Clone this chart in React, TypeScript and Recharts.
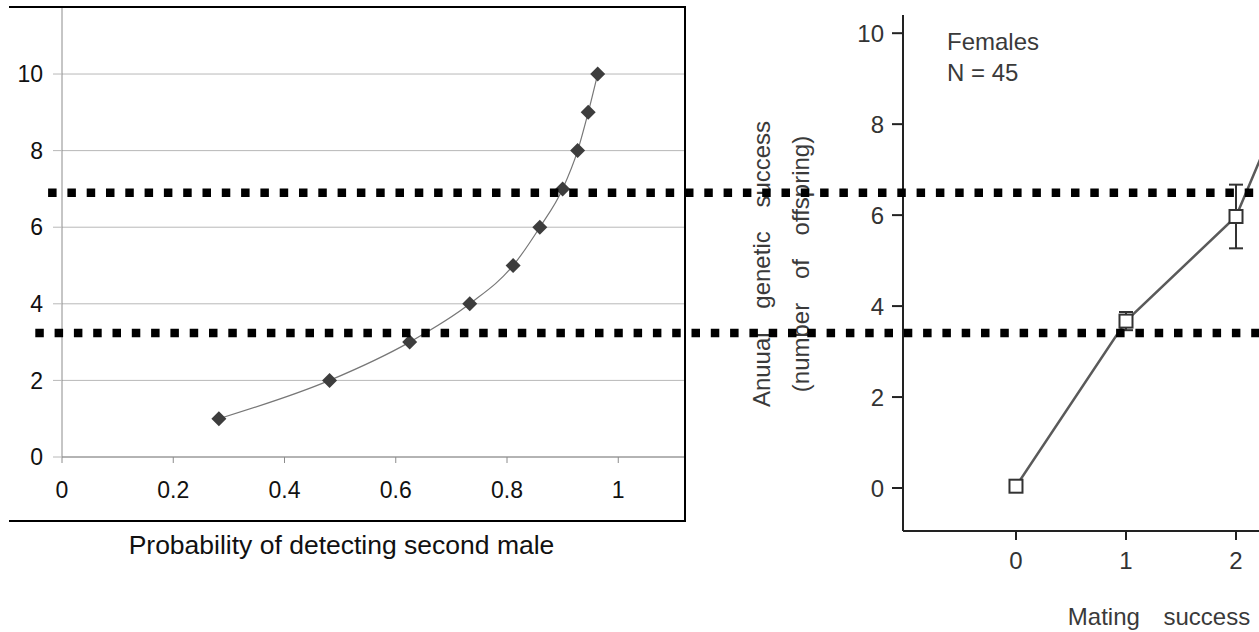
import React from 'react'
import {
  LineChart,
  Line,
  XAxis,
  YAxis,
  CartesianGrid,
  ReferenceLine,
  ErrorBar,
  Label,
} from 'recharts'

// left panel: probability of detecting a second male (x) for 1..10 (y)
const lociCount = [1, 2, 3, 4, 5, 6, 7, 8, 9, 10]
const probDetect = [0.282, 0.481, 0.625, 0.733, 0.811, 0.859, 0.9, 0.927, 0.946, 0.963]
const leftXTicks = [0, 0.2, 0.4, 0.6, 0.8, 1]
const leftYTicks = [0, 2, 4, 6, 8, 10]

// right panel: females, annual genetic success vs mating success
const matingSuccess = [0, 1, 2, 3]
const offspring = [0.04, 3.67, 5.97, 11.7]
const offspringErr = [0, 0.2, 0.7, 0.9]
const rightXTicks = [0, 1, 2]
const rightYTicks = [0, 2, 4, 6, 8, 10]

// dotted lines across both panels, in left panel units
const thresholdLevels = [6.9, 3.24]
const thresholdStarts = [-0.025, -0.048]
const thresholdEnd = 2.2

const leftData = lociCount.map((n, i) => ({ p: probDetect[i], n }))
const rightData = matingSuccess.map((m, i) => ({ m, off: offspring[i], err: offspringErr[i] }))

const Diamond = (props: any) => {
  const { cx, cy, index } = props
  if (cx == null || cy == null) return <g key={index} />
  const r = 7.5
  return (
    <path
      key={index}
      d={`M${cx},${cy - r}L${cx + r},${cy}L${cx},${cy + r}L${cx - r},${cy}Z`}
      fill="#3d3d3d"
    />
  )
}

const HollowSquare = (props: any) => {
  const { cx, cy, index } = props
  if (cx == null || cy == null) return <g key={index} />
  const s = 13
  return (
    <rect
      key={index}
      x={cx - s / 2}
      y={cy - s / 2}
      width={s}
      height={s}
      fill="#fff"
      stroke="#333"
      strokeWidth={2}
    />
  )
}

const RightYLabel = (props: any) => {
  const { viewBox } = props
  const cy = viewBox.y + viewBox.height / 2 - 9
  const x1 = viewBox.x - 82
  const x2 = viewBox.x - 43
  const style = { fontSize: 24, fill: '#3a3a3a', wordSpacing: 17 }
  return (
    <g>
      <text x={x1} y={cy} transform={`rotate(-90, ${x1}, ${cy})`} textAnchor="middle" dominantBaseline="central" style={style}>
        Anuual genetic success
      </text>
      <text x={x2} y={cy} transform={`rotate(-90, ${x2}, ${cy})`} textAnchor="middle" dominantBaseline="central" style={style}>
        (number of offspring)
      </text>
    </g>
  )
}

export default function App() {
  return (
    <div
      style={{
        position: 'absolute',
        left: 0,
        top: 0,
        width: 1259,
        height: 632,
        overflow: 'hidden',
        background: '#fff',
        fontFamily: '"Liberation Sans", Arial, sans-serif',
      }}
    >
      {/* left panel */}
      <div style={{ position: 'absolute', left: 0, top: 0 }}>
        <LineChart width={700} height={580} data={leftData} margin={{ top: 7, right: 15, bottom: 0, left: 12 }}>
          <CartesianGrid vertical={false} stroke="#b8b8b8" />
          <XAxis
            type="number"
            dataKey="p"
            domain={[0, 1.12]}
            allowDataOverflow
            ticks={leftXTicks}
            height={123}
            tickSize={6}
            tickMargin={19}
            axisLine={{ stroke: '#8c8c8c' }}
            tickLine={{ stroke: '#8c8c8c' }}
            tick={{ fill: '#111', fontSize: 23 }}
          >
            <Label
              value="Probability of detecting second male"
              position="insideBottom"
              offset={26}
              dx={-32}
              style={{ fontSize: 26.5, fill: '#111' }}
            />
          </XAxis>
          <YAxis
            type="number"
            domain={[0, 11.75]}
            allowDataOverflow
            ticks={leftYTicks}
            width={50}
            tickSize={9}
            tickMargin={10}
            axisLine={{ stroke: '#8c8c8c' }}
            tickLine={{ stroke: '#b8b8b8' }}
            tick={{ fill: '#111', fontSize: 23 }}
          />
          <Line
            type="monotone"
            dataKey="n"
            stroke="#777"
            strokeWidth={1.2}
            dot={(p: any) => <Diamond key={p.index} {...p} />}
            activeDot={false}
            isAnimationActive={false}
          />
        </LineChart>
      </div>

      {/* left panel frame */}
      <div
        style={{
          position: 'absolute',
          left: 9,
          top: 6,
          width: 675,
          height: 512,
          borderTop: '2px solid #000',
          borderRight: '2px solid #000',
          borderBottom: '2px solid #000',
        }}
      />

      {/* right panel */}
      <div style={{ position: 'absolute', left: 700, top: 0 }}>
        <LineChart width={715} height={632} data={rightData} margin={{ top: 15, right: 0, bottom: 1, left: 143 }}>
          <XAxis
            type="number"
            dataKey="m"
            domain={[-1.027, 3.627]}
            allowDataOverflow
            ticks={rightXTicks}
            height={100}
            tickSize={9}
            tickMargin={12}
            axisLine={{ stroke: '#222', strokeWidth: 2 }}
            tickLine={{ stroke: '#222', strokeWidth: 2 }}
            tick={{ fill: '#333', fontSize: 24 }}
          >
            <Label
              value="Mating success"
              position="insideBottom"
              offset={6}
              style={{ fontSize: 24, fill: '#3a3a3a', wordSpacing: 17 }}
            />
          </XAxis>
          <YAxis
            type="number"
            domain={[-0.945, 10.4]}
            allowDataOverflow
            ticks={rightYTicks}
            width={60}
            tickSize={11}
            tickMargin={8}
            axisLine={{ stroke: '#222', strokeWidth: 2 }}
            tickLine={{ stroke: '#222', strokeWidth: 2 }}
            tick={{ fill: '#333', fontSize: 24 }}
          >
            <Label content={RightYLabel} />
          </YAxis>
          <Line
            type="linear"
            dataKey="off"
            stroke="#5a5a5a"
            strokeWidth={2.5}
            dot={(p: any) => <HollowSquare key={p.index} {...p} />}
            activeDot={false}
            isAnimationActive={false}
          >
            <ErrorBar dataKey="err" width={7} strokeWidth={2} stroke="#333" direction="y" />
          </Line>
        </LineChart>
      </div>

      <div style={{ position: 'absolute', left: 947, top: 29, fontSize: 24, lineHeight: '26px', color: '#3a3a3a' }}>
        Females
      </div>
      <div style={{ position: 'absolute', left: 947, top: 60, fontSize: 24, lineHeight: '26px', color: '#3a3a3a' }}>
        N = 45
      </div>

      {/* dotted lines spanning both panels */}
      <div style={{ position: 'absolute', left: 0, top: 0, pointerEvents: 'none' }}>
        <LineChart width={1259} height={632} data={leftData} margin={{ top: 7, right: 574, bottom: 175, left: 62 }}>
          <XAxis type="number" dataKey="p" domain={[0, 1.12]} allowDataOverflow hide />
          <YAxis type="number" domain={[0, 11.75]} allowDataOverflow hide />
          {thresholdLevels.map((lvl, i) => (
            <ReferenceLine
              key={i}
              segment={[
                { x: thresholdStarts[i], y: lvl },
                { x: thresholdEnd, y: lvl },
              ]}
              ifOverflow="visible"
              stroke="#000"
              strokeWidth={8.5}
              strokeDasharray="8.5 10.8"
            />
          ))}
        </LineChart>
      </div>
    </div>
  )
}
